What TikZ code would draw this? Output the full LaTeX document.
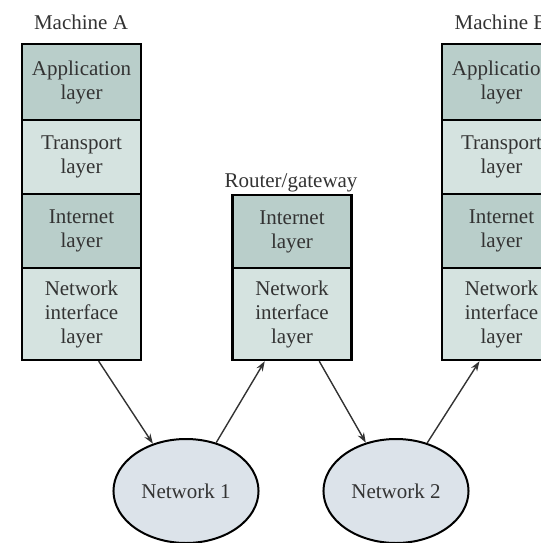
\documentclass[tikz,border=0pt]{standalone}
\usepackage{fontspec}
\setmainfont{Liberation Serif}
\usepackage{tikz}
\usetikzlibrary{shapes,arrows,arrows.meta}

\definecolor{layerdark}{HTML}{B9CECA}
\definecolor{layerlight}{HTML}{D5E3E0}
\definecolor{netfill}{HTML}{DCE3EA}
\definecolor{inkgray}{HTML}{333333}

\begin{document}
\begin{tikzpicture}[x=0.5pt,y=-0.5pt]
		\useasboundingbox (0,0) rectangle (541,543);
		\clip (0,0) rectangle (541,543);
		\begin{scope}
            [
                every node/.style={
					text=inkgray, font=\fontsize{10.5}{12}\selectfont, align=center},
				layer/.style = {draw=black, line width=1.2pt, minimum width=59.5pt, inner sep=0pt},
				dark/.style = {layer, fill=layerdark},
				light/.style = {layer, fill=layerlight},
				net/.style = {ellipse, draw=black, line width=1pt, fill=netfill, minimum width=64pt, minimum height=52pt}
            ]

			\node(ta) at (81,22) {Machine A};
			\node(tr) at (291,183) {Router/gateway};
			\node(tb) at (501,22) {Machine B};

			\node(appA)[dark, minimum height=38pt] at (81.5,82) {Application\\layer};
			\node(traA)[light, minimum height=37pt] at (81.5,157) {Transport\\layer};
			\node(intA)[dark, minimum height=37pt] at (81.5,231) {Internet\\layer};
			\node(nifA)[light, minimum height=46pt] at (81.5,314) {Network\\interface\\layer};

			\node(intR)[dark, minimum height=36.5pt] at (292,231.5) {Internet\\layer};
			\node(nifR)[light, minimum height=46pt] at (292,314) {Network\\interface\\layer};

			\node(appB)[dark, minimum height=38pt] at (501.5,82) {Application\\layer};
			\node(traB)[light, minimum height=37pt] at (501.5,157) {Transport\\layer};
			\node(intB)[dark, minimum height=37pt] at (501.5,231) {Internet\\layer};
			\node(nifB)[light, minimum height=46pt] at (501.5,314) {Network\\interface\\layer};

			\node(net1)[net] at (186,491) {Network 1};
			\node(net2)[net] at (396,491) {Network 2};

		\end{scope}
		\begin{scope}
            [>={Stealth[inkgray, length=5pt, width=3.5pt]},
                every edge/.style={draw=inkgray, line width=0.7pt}
            ]
            \path
            (nifA.-70) edge[->] (net1.125)
            (net1.58) edge[->] (nifR.-120)
			(nifR.-60) edge[->] (net2.122)
			(net2.57) edge[->] (nifB.-115);
		\end{scope}
    \end{tikzpicture}
\end{document}
